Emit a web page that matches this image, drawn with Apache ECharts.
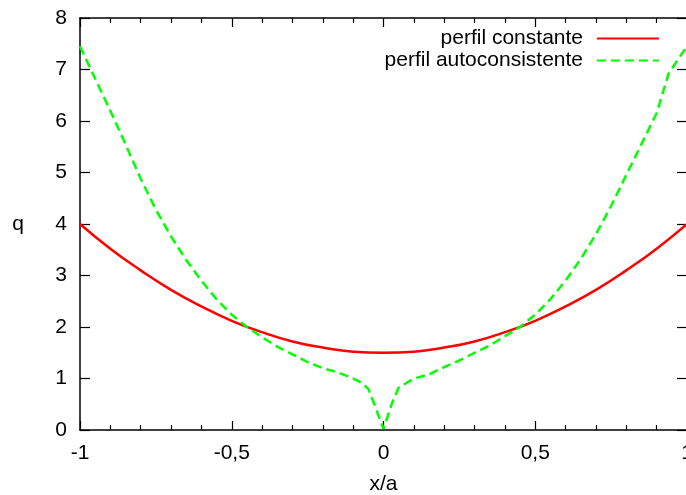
<!DOCTYPE html>
<html>
<head>
<meta charset="utf-8">
<script src="https://cdn.jsdelivr.net/npm/echarts@6/dist/echarts.min.js"></script>
<style>html,body{margin:0;padding:0;background:#fff}#c{width:686px;height:495px}</style>
</head>
<body>
<div id="c"></div>
<script>
const xConst = [-1, -0.9, -0.8, -0.7, -0.6, -0.5, -0.4, -0.3, -0.2, -0.1, 0, 0.1, 0.2, 0.3, 0.4, 0.5, 0.6, 0.7, 0.8, 0.9, 1];
const qConst = [4.0, 3.52, 3.1, 2.72, 2.4, 2.12, 1.9, 1.72, 1.6, 1.52, 1.5, 1.52, 1.6, 1.72, 1.9, 2.12, 2.4, 2.72, 3.1, 3.52, 4.0];
const xAuto = [-1, -0.945, -0.9, -0.85, -0.8, -0.75, -0.7, -0.65, -0.6, -0.55, -0.5, -0.45, -0.4, -0.35, -0.3, -0.25, -0.2, -0.15, -0.1, -0.07, -0.05, -0.03, 0, 0.03, 0.05, 0.1, 0.15, 0.2, 0.25, 0.3, 0.35, 0.4, 0.45, 0.5, 0.55, 0.6, 0.65, 0.7, 0.75, 0.8, 0.85, 0.9, 0.94, 1];
const qAuto = [7.45, 6.76, 6.2, 5.55, 4.88, 4.28, 3.76, 3.3, 2.9, 2.54, 2.24, 2.0, 1.8, 1.62, 1.47, 1.32, 1.2, 1.12, 1.0, 0.91, 0.8, 0.5, 0.02, 0.55, 0.82, 1.0, 1.08, 1.22, 1.35, 1.5, 1.64, 1.82, 2.0, 2.24, 2.54, 2.9, 3.32, 3.8, 4.35, 4.95, 5.55, 6.15, 6.93, 7.45];
const seriesNames = ['perfil constante', 'perfil autoconsistente'];
const xTitle = 'x/a';
const yTitle = 'q';

const font = 'Liberation Sans, Arial, sans-serif';
const fs = 21;
const chart = echarts.init(document.getElementById('c'));
const fmt = v => String(v).replace('.', ',');
chart.setOption({
  animation: false,
  backgroundColor: '#fff',
  grid: { left: 80, top: 18, width: 607, height: 412, containLabel: false, outerBoundsMode: 'none' },
  legend: {
    right: 26, top: 28, orient: 'vertical', align: 'right',
    itemWidth: 62, itemHeight: 22, itemGap: 1, padding: 0,
    itemStyle: { color: 'rgba(0,0,0,0)', borderWidth: 0 },
    textStyle: { fontFamily: font, fontSize: fs, color: '#000', padding: [0, 9, 0, 0] },
    data: seriesNames
  },
  xAxis: [{
    type: 'value', min: -1, max: 1, interval: 0.5,
    name: xTitle, nameLocation: 'middle', nameGap: 44,
    nameTextStyle: { fontFamily: font, fontSize: fs, color: '#000' },
    axisLine: { onZero: false, lineStyle: { color: '#000', width: 1.5 } },
    axisTick: { inside: true, length: 9, lineStyle: { color: '#000', width: 1.2 } },
    minorTick: { show: true, splitNumber: 5, length: 5, lineStyle: { color: '#000', width: 1.2 } },
    axisLabel: { fontFamily: font, fontSize: fs, color: '#000', margin: 13, formatter: fmt, showMaxLabel: true, showMinLabel: true, hideOverlap: false },
    splitLine: { show: false }
  }, {
    type: 'value', min: -1, max: 1, interval: 0.5, position: 'top',
    axisLine: { onZero: false, lineStyle: { color: '#000', width: 1.5 } },
    axisTick: { inside: true, length: 9, lineStyle: { color: '#000', width: 1.2 } },
    minorTick: { show: true, splitNumber: 5, length: 5, lineStyle: { color: '#000', width: 1.2 } },
    axisLabel: { show: false }, splitLine: { show: false }
  }],
  yAxis: [{
    type: 'value', min: 0, max: 8, interval: 1,
    name: yTitle, nameLocation: 'middle', nameGap: 56, nameRotate: 0,
    nameTextStyle: { fontFamily: font, fontSize: fs, color: '#000' },
    axisLine: { show: true, onZero: false, lineStyle: { color: '#000', width: 1.5 } },
    axisTick: { show: true, inside: true, length: 10, lineStyle: { color: '#000', width: 1.2 } },
    axisLabel: { fontFamily: font, fontSize: fs, color: '#000', margin: 13 },
    splitLine: { show: false }
  }, {
    type: 'value', min: 0, max: 8, interval: 1, position: 'right',
    axisLine: { show: true, onZero: false, lineStyle: { color: '#000', width: 1.5 } },
    axisTick: { show: true, inside: true, length: 10, lineStyle: { color: '#000', width: 1.2 } },
    axisLabel: { show: false }, splitLine: { show: false }
  }],
  series: [{
    name: seriesNames[0], type: 'line', symbol: 'none', smooth: true,
    data: xConst.map((x, i) => [x, qConst[i]]),
    lineStyle: { color: '#ff0000', width: 2.5 }, itemStyle: { color: '#ff0000' }
  }, {
    name: seriesNames[1], type: 'line', symbol: 'none',
    data: xAuto.map((x, i) => [x, qAuto[i]]),
    lineStyle: { color: '#00ff00', width: 2.5, type: [9, 5] }, itemStyle: { color: '#00ff00' }
  }]
});
</script>
</body>
</html>
